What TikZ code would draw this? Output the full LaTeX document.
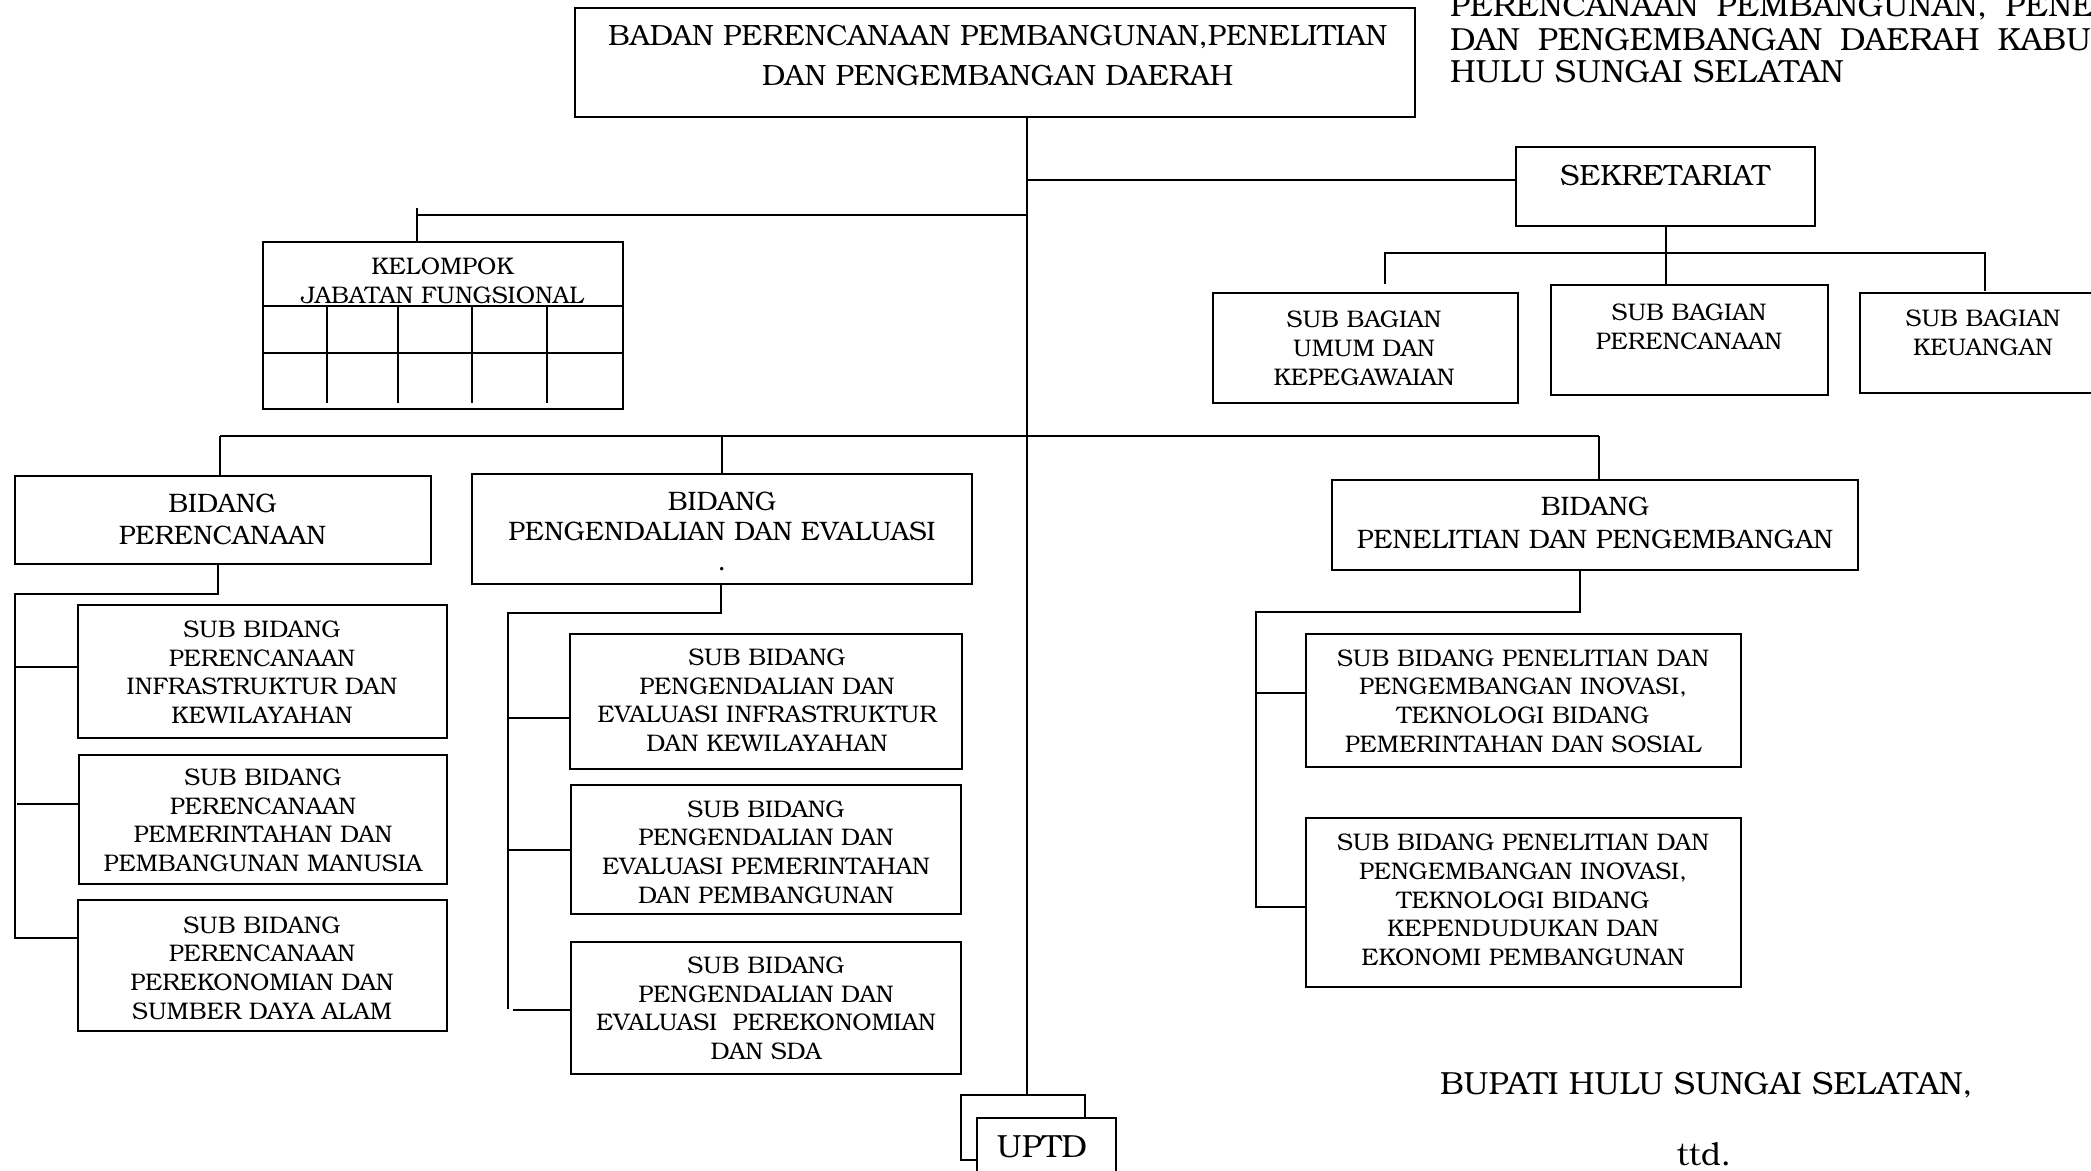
\documentclass[tikz,border=0pt]{standalone}
\usepackage{fontspec}
\setmainfont{TeX Gyre Bonum}
\usetikzlibrary{calc}
\begin{document}
\begin{tikzpicture}[x=1pt,y=-1pt,
  box/.style={draw, line width=2pt, inner sep=0pt, outer sep=0pt, rectangle, anchor=north west},
  conn/.style={line width=2pt},
  tx/.style={inner sep=0pt, outer sep=0pt, align=center},
  ftop/.style={tx, font=\fontsize{29.3}{40}\selectfont},
  fttl/.style={inner sep=0pt, outer sep=0pt, anchor=base west, font=\fontsize{32}{32}\selectfont},
  fsek/.style={tx, font=\fontsize{29.3}{34}\selectfont},
  fbid/.style={tx, font=\fontsize{26.7}{32}\selectfont},
  fsub/.style={tx, font=\fontsize{24}{28.6}\selectfont},
  fbag/.style={tx, font=\fontsize{24}{29}\selectfont},
  fbig/.style={inner sep=0pt, outer sep=0pt, anchor=base, font=\fontsize{32}{32}\selectfont}
]
\useasboundingbox (0,0) rectangle (2091,1170);
\fill[white] (0,0) rectangle (2091,1170);

% ---------- boxes ----------
\node[box, minimum width=840, minimum height=109] (top) at (575,8) {};
\node[box, minimum width=299, minimum height=79] (sek) at (1516,147) {};
\node[box, minimum width=305, minimum height=110] (umum) at (1213,293) {};
\node[box, minimum width=277, minimum height=110] (sbper) at (1551,285) {};
\node[box, minimum width=250, minimum height=100] (keu) at (1860,293) {};
\node[box, minimum width=360, minimum height=167] (kjf) at (263,242) {};
\node[box, minimum width=416, minimum height=88] (bper) at (15,476) {};
\node[box, minimum width=500, minimum height=110] (bpen) at (472,474) {};
\node[box, minimum width=526, minimum height=90] (blit) at (1332,480) {};
\node[box, minimum width=369, minimum height=133] (A) at (78,605) {};
\node[box, minimum width=368, minimum height=129] (B) at (79,755) {};
\node[box, minimum width=369, minimum height=131] (C) at (78,900) {};
\node[box, minimum width=392, minimum height=135] (D) at (570,634) {};
\node[box, minimum width=390, minimum height=129] (E) at (571,785) {};
\node[box, minimum width=390, minimum height=132] (F) at (571,942) {};
\node[box, minimum width=435, minimum height=133] (G) at (1306,634) {};
\node[box, minimum width=435, minimum height=169] (H) at (1306,818) {};
\node[box, minimum width=124, minimum height=65] (uptdback) at (961,1095) {};
\node[box, fill=white, minimum width=139, minimum height=90] (uptd) at (977,1118) {};

% ---------- KJF grid ----------
\draw[conn] ($(kjf.north west)+(0,64)$) -- ($(kjf.north east)+(0,64)$);
\draw[conn] ($(kjf.north west)+(0,111)$) -- ($(kjf.north east)+(0,111)$);
\foreach \dx in {64,135,209,284}
  \draw[conn] ($(kjf.north west)+(\dx,64)$) -- ($(kjf.north west)+(\dx,161)$);

% ---------- junction coordinates ----------
\coordinate (tk) at (1027,0);
\coordinate (jSek) at (1027,180);
\coordinate (hS) at (0,253);
\coordinate (jU) at (1385,284);
\coordinate (jK) at (1985,291);
\coordinate (jKJF) at (1027,215);
\coordinate (kv) at (417,208);
\coordinate (bL) at (220,436);
\coordinate (bR) at (1599,436);
\coordinate (pT) at (218,594);
\coordinate (pL) at (15,594);
\coordinate (pA) at (15,667);
\coordinate (pB) at (17,804);
\coordinate (pC) at (15,938);
\coordinate (eT) at (721,613);
\coordinate (eL) at (508,613);
\coordinate (eD) at (508,718);
\coordinate (eE) at (508,850);
\coordinate (eF) at (508,1009);
\coordinate (eF2) at (513,1010);
\coordinate (rT) at (1580,612);
\coordinate (rL) at (1256,612);
\coordinate (rG) at (1256,693);
\coordinate (rH) at (1256,907);

% ---------- connectors ----------
\draw[conn] (top.south -| tk) -- (uptdback.north -| tk);
\draw[conn] (jSek) -- (sek.west |- jSek);
\draw[conn] (sek.south) -- (sek.south |- sbper.north);
\draw[conn] (jU) |- (jK |- hS) -- (jK);
\draw[conn] (kv) -- (kv |- kjf.north);
\draw[conn] (kv |- jKJF) -- (jKJF);
\draw[conn] (bL) -- (bR);
\draw[conn] (bL) -- (bL |- bper.north);
\draw[conn] (bR) -- (bR |- blit.north);
\draw[conn] (bpen.north |- bL) -- (bpen.north);
\draw[conn] (pT |- bper.south) -- (pT) -- (pL) -- (pC) -- (pC -| C.west);
\draw[conn] (pA) -- (pA -| A.west);
\draw[conn] (pB) -- (pB -| B.west);
\draw[conn] (eT |- bpen.south) -- (eT) -- (eL) -- (eF);
\draw[conn] (eD) -- (eD -| D.west);
\draw[conn] (eE) -- (eE -| E.west);
\draw[conn] (eF2) -- (eF2 -| F.west);
\draw[conn] (rT |- blit.south) -- (rT) -- (rL) -- (rH) -- (rH -| H.west);
\draw[conn] (rG) -- (rG -| G.west);

% ---------- texts ----------
\node[ftop] (ttop) at (997.7,56) {BADAN PERENCANAAN PEMBANGUNAN,PENELITIAN\\DAN PENGEMBANGAN DAERAH};
\node[fttl] (ttl1) at (1450,16) {\makebox[645pt][s]{PERENCANAAN PEMBANGUNAN, PENE}};
\node[fttl] (ttl2) at (1450,50) {\makebox[641pt][s]{DAN PENGEMBANGAN DAERAH KABU}};
\node[fttl] (ttl3) at (1450,82) {HULU SUNGAI SELATAN};
\node[fsek] (tsek) at (1665,176) {SEKRETARIAT};
\node[fbag] (tumum) at (1364,348.5) {SUB BAGIAN\\UMUM DAN\\KEPEGAWAIAN};
\node[fbag] (tsbper) at (1689,326.5) {SUB BAGIAN\\PERENCANAAN};
\node[fbag] (tkeu) at (1983,333) {SUB BAGIAN\\KEUANGAN};
\node[fbag] (tkjf) at (442.5,281) {KELOMPOK\\JABATAN FUNGSIONAL};
\node[fbid] (tbper) at (222.5,519.5) {BIDANG\\PERENCANAAN};
\node[fbid, font=\fontsize{26.7}{30}\selectfont] (tbpen) at (722,531) {BIDANG\\PENGENDALIAN DAN EVALUASI\\.};
\node[fbid, font=\fontsize{26.7}{33}\selectfont] (tblit) at (1595,523) {BIDANG\\PENELITIAN DAN PENGEMBANGAN};
\node[fsub] (tA) at (262,672) {SUB BIDANG\\PERENCANAAN\\INFRASTRUKTUR DAN\\KEWILAYAHAN};
\node[fsub] (tB) at (263,820.5) {SUB BIDANG\\PERENCANAAN\\PEMERINTAHAN DAN\\PEMBANGUNAN MANUSIA};
\node[fsub] (tC) at (262,968) {SUB BIDANG\\PERENCANAAN\\PEREKONOMIAN DAN\\SUMBER DAYA ALAM};
\node[fsub] (tD) at (767,700) {SUB BIDANG\\PENGENDALIAN DAN\\EVALUASI INFRASTRUKTUR\\DAN KEWILAYAHAN};
\node[fsub] (tE) at (766,852) {SUB BIDANG\\PENGENDALIAN DAN\\EVALUASI PEMERINTAHAN\\DAN PEMBANGUNAN};
\node[fsub] (tF) at (766,1008.5) {SUB BIDANG\\PENGENDALIAN DAN\\EVALUASI \ PEREKONOMIAN\\DAN SDA};
\node[fsub] (tG) at (1523,701) {SUB BIDANG PENELITIAN DAN\\PENGEMBANGAN INOVASI,\\TEKNOLOGI BIDANG\\PEMERINTAHAN DAN SOSIAL};
\node[fsub] (tH) at (1523,900) {SUB BIDANG PENELITIAN DAN\\PENGEMBANGAN INOVASI,\\TEKNOLOGI BIDANG\\KEPENDUDUKAN DAN\\EKONOMI PEMBANGUNAN};
\node[fbig] (tuptd) at (1042,1157) {UPTD};
\node[fttl] (tbup) at (1440,1094) {BUPATI HULU SUNGAI SELATAN,};
\node[fbig] (tttd) at (1704,1165) {ttd.};
\end{tikzpicture}
\end{document}
